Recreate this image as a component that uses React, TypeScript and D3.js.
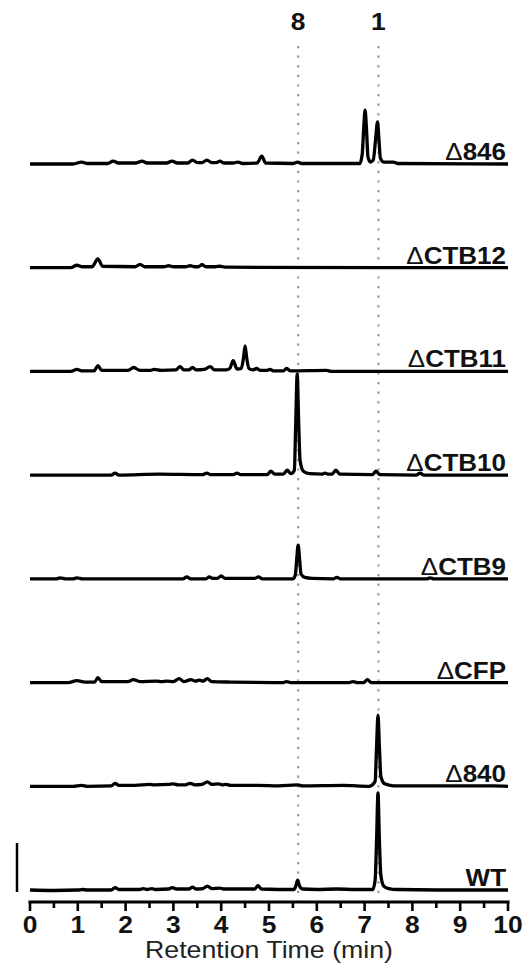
import React from "react";
import * as d3 from "d3";

// Sample names, top to bottom
const samples = ["Δ846", "ΔCTB12", "ΔCTB11", "ΔCTB10", "ΔCTB9", "ΔCFP", "Δ840", "WT"];

// Chromatogram vertices per sample: [retention time (min), signal (mAU)]
const traceD846: [number, number][] = [
  [0, 0], [0.9, 0], [1.08, 4], [1.2, 1], [1.62, 1], [1.74, 6], [1.85, 2], [2.22, 2], [2.34, 6], [2.45, 2],
  [2.86, 2], [2.97, 6], [3.08, 2], [3.3, 2], [3.4, 8], [3.5, 3], [3.6, 3], [3.7, 8], [3.8, 3], [3.9, 3],
  [3.97, 6], [4.06, 2], [4.25, 2], [4.35, 4], [4.45, 1], [4.75, 2], [4.85, 16], [4.93, 2], [5.5, 1],
  [5.6, 4], [5.68, 1], [6.9, 1], [6.95, 20], [6.98, 70], [7.01, 110], [7.04, 70], [7.07, 15], [7.12, 4],
  [7.18, 8], [7.23, 50], [7.27, 86], [7.3, 50], [7.33, 12], [7.4, 4], [7.6, 4], [7.7, 1], [10, 0],
];
const traceCTB12: [number, number][] = [
  [0, 0], [0.85, 0], [0.98, 5], [1.1, 2], [1.3, 2], [1.42, 18], [1.52, 3], [2.2, 2], [2.3, 7], [2.4, 2],
  [2.8, 2], [2.9, 4], [3.0, 2], [3.25, 2], [3.35, 4], [3.45, 2], [3.52, 2], [3.6, 6], [3.68, 2], [3.88, 2],
  [3.97, 3], [4.1, 1], [10, 0],
];
const traceCTB11: [number, number][] = [
  [0, 0], [0.85, 0], [0.98, 4], [1.1, 1], [1.34, 1], [1.42, 12], [1.5, 2], [2.05, 2], [2.17, 8], [2.3, 2],
  [2.5, 2], [2.6, 4], [2.75, 2], [3.05, 3], [3.14, 10], [3.22, 3], [3.32, 3], [3.4, 8], [3.48, 3],
  [3.65, 4], [3.77, 10], [3.86, 3], [4.1, 3], [4.18, 6], [4.25, 22], [4.33, 5], [4.42, 6], [4.47, 30],
  [4.5, 52], [4.53, 30], [4.58, 6], [4.66, 3], [4.74, 6], [4.82, 2], [4.95, 2], [5.02, 4], [5.1, 1],
  [5.3, 1], [5.37, 6], [5.45, 1], [6.2, 2], [6.3, 0], [10, 0],
];
const traceCTB10: [number, number][] = [
  [0, 0], [1.7, 0], [1.78, 4], [1.86, 0], [2.7, 2], [3.6, 1], [3.7, 4], [3.78, 1], [4.25, 1], [4.33, 4],
  [4.41, 1], [4.96, 1], [5.04, 8], [5.12, 2], [5.3, 2], [5.38, 10], [5.46, 3], [5.53, 10], [5.56, 110],
  [5.59, 206], [5.62, 110], [5.65, 30], [5.72, 8], [5.85, 3], [6.1, 2], [6.17, 4], [6.25, 2], [6.32, 2],
  [6.4, 10], [6.48, 2], [7.16, 1], [7.24, 8], [7.32, 1], [8.08, 0], [8.16, 4], [8.24, 0], [10, 0],
];
const traceCTB9: [number, number][] = [
  [0, 0], [0.55, 0], [0.63, 2], [0.75, 0], [0.9, 0], [0.98, 2], [1.1, 0], [3.2, 0], [3.28, 4], [3.36, 0],
  [3.68, 0], [3.75, 4], [3.82, 1], [3.92, 1], [4.0, 6], [4.08, 1], [4.7, 1], [4.78, 4], [4.86, 0],
  [5.5, 0], [5.55, 8], [5.58, 40], [5.61, 69], [5.64, 40], [5.67, 10], [5.75, 3], [5.9, 1], [6.34, 0],
  [6.42, 3], [6.5, 0], [8.3, 0], [8.37, 2], [8.45, 0], [10, 0],
];
const traceCFP: [number, number][] = [
  [0, 0], [0.8, 0], [0.98, 4], [1.15, 1], [1.35, 1], [1.42, 10], [1.5, 2], [2.05, 2], [2.16, 6], [2.3, 2],
  [2.65, 3], [2.76, 2], [2.86, 3], [3.0, 2], [3.12, 8], [3.22, 2], [3.37, 6], [3.46, 3], [3.54, 5],
  [3.62, 3], [3.71, 8], [3.8, 2], [4.2, 1], [5.3, 0], [5.37, 2], [5.45, 0], [6.68, 0], [6.76, 2],
  [6.85, 0], [6.98, 0], [7.06, 6], [7.14, 0], [10, 0],
];
const trace840: [number, number][] = [
  [0, 0], [0.9, 0], [1.08, 2], [1.2, 0], [1.7, 1], [1.78, 6], [1.86, 2], [2.2, 2], [2.5, 4], [2.6, 3],
  [2.9, 4], [3.0, 5], [3.1, 3], [3.25, 3], [3.35, 6], [3.45, 3], [3.6, 4], [3.71, 9], [3.8, 4], [3.94, 5],
  [4.02, 3], [4.1, 4], [4.2, 2], [4.77, 2], [5.2, 1], [5.6, 3], [5.7, 1], [6.55, 2], [7.1, 0], [7.22, 10],
  [7.25, 80], [7.28, 145], [7.31, 80], [7.34, 20], [7.42, 5], [7.6, 1], [9.7, 1], [10, 0],
];
const traceWT: [number, number][] = [
  [0, 0], [0.5, -1], [1.0, 0], [1.1, 1], [1.2, 0], [1.7, 0], [1.78, 5], [1.86, 1], [2.3, 1], [2.37, 3],
  [2.45, 1], [2.55, 3], [2.62, 1], [2.9, 2], [2.98, 5], [3.06, 2], [3.33, 2], [3.4, 6], [3.47, 2],
  [3.62, 3], [3.71, 8], [3.8, 3], [3.97, 4], [4.05, 2], [4.4, 2], [4.7, 2], [4.77, 9], [4.84, 2],
  [5.2, 1], [5.52, 1], [5.56, 8], [5.6, 20], [5.64, 8], [5.7, 2], [6.0, 1], [6.42, 2], [6.8, 1],
  [7.17, 1], [7.22, 20], [7.25, 100], [7.28, 198], [7.31, 100], [7.34, 30], [7.4, 8], [7.5, 3],
  [7.7, 1], [8.5, 0], [10, 0],
];
const traces = [traceD846, traceCTB12, traceCTB11, traceCTB10, traceCTB9, traceCFP, trace840, traceWT];

// Reference compounds marked by dotted guides
const markerLabels = ["8", "1"];
const markerTimes = [5.61, 7.29];

// Axis ticks
const majorTicks = [0, 1, 2, 3, 4, 5, 6, 7, 8, 9, 10];
const minorTicks = [0.5, 1.5, 2.5, 3.5, 4.5, 5.5, 6.5, 7.5, 8.5, 9.5];

// Scale bar height (mAU)
const scaleBarValue = 100;

const W = 524;
const H = 976;
const FONT = "'Liberation Sans', Arial, Helvetica, sans-serif";

export default function App() {
  const x = d3.scaleLinear().domain([0, 10]).range([30, 508]);
  const lane = d3.scalePoint<string>().domain(samples).range([164, 890]);
  const amp = d3.scaleLinear().domain([0, 100]).range([0, 49]);
  const axisY = 902;

  const lineFor = (name: string) =>
    d3
      .line<[number, number]>()
      .x((d) => x(d[0]))
      .y((d) => (lane(name) as number) - amp(d[1]))
      .curve(d3.curveMonotoneX);

  const wtBase = lane("WT") as number;

  return (
    <svg
      width={W}
      height={H}
      viewBox={`0 0 ${W} ${H}`}
      style={{ position: "absolute", left: 0, top: 0, background: "#fff" }}
      fontFamily={FONT}
    >
      <rect width={W} height={H} fill="#fff" />

      {/* dotted guides */}
      {markerTimes.map((t, i) => (
        <g key={"m" + i}>
          <line
            x1={x(t)}
            x2={x(t)}
            y1={46}
            y2={904}
            stroke="#999"
            strokeWidth={2.2}
            strokeDasharray="2.2 7.4"
          />
          <text
            transform={`translate(${x(t)},30) scale(1.1,1)`}
            textAnchor="middle"
            fontSize={24}
            fontWeight="bold"
            fill="#111"
          >
            {markerLabels[i]}
          </text>
        </g>
      ))}

      {/* chromatograms */}
      {samples.map((name, i) => (
        <path
          key={name}
          d={lineFor(name)(traces[i]) || ""}
          fill="none"
          stroke="#000"
          strokeWidth={3.3}
          strokeLinejoin="round"
          strokeLinecap="butt"
        />
      ))}

      {/* sample labels */}
      {samples.map((name) => {
        const y = (lane(name) as number) - 4;
        const hasDelta = name.startsWith("Δ");
        return (
          <text
            key={"l" + name}
            transform={`translate(506,${y}) scale(1.13,1)`}
            textAnchor="end"
            fontSize={23}
            fontWeight="bold"
            fill="#111"
          >
            {hasDelta && <tspan fontWeight="normal">Δ</tspan>}
            <tspan>{hasDelta ? name.slice(1) : name}</tspan>
          </text>
        );
      })}

      {/* scale bar */}
      <line
        x1={17}
        x2={17}
        y1={wtBase + 2}
        y2={wtBase + 2 - amp(scaleBarValue)}
        stroke="#000"
        strokeWidth={2.5}
      />

      {/* x axis */}
      <line x1={x(0) - 1.5} x2={x(10) + 1.5} y1={axisY} y2={axisY} stroke="#000" strokeWidth={3} />
      {majorTicks.map((t) => (
        <line key={"M" + t} x1={x(t)} x2={x(t)} y1={axisY} y2={axisY + 9} stroke="#000" strokeWidth={2.6} />
      ))}
      {minorTicks.map((t) => (
        <line key={"m" + t} x1={x(t)} x2={x(t)} y1={axisY} y2={axisY + 6} stroke="#000" strokeWidth={2.6} />
      ))}
      {majorTicks.map((t) => (
        <text
          key={"t" + t}
          transform={`translate(${x(t)},933) scale(1.1,1)`}
          textAnchor="middle"
          fontSize={24}
          fontWeight="bold"
          fill="#111"
        >
          {t}
        </text>
      ))}
      <text
        x={x(5)}
        y={958}
        textAnchor="middle"
        fontSize={24}
        fill="#222"
        textLength={248}
        lengthAdjust="spacingAndGlyphs"
      >
        Retention Time (min)
      </text>
    </svg>
  );
}
